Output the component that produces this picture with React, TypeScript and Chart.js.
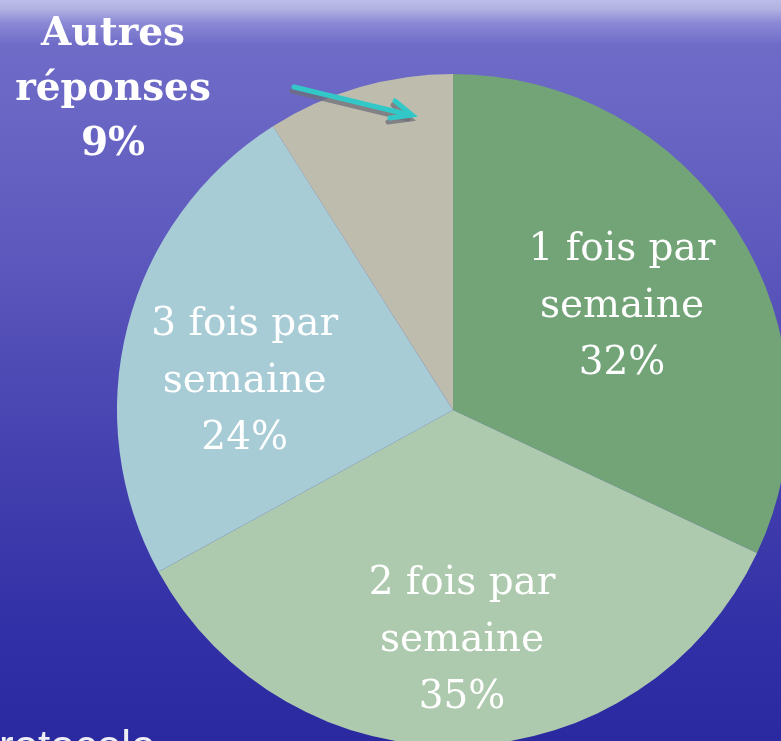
import React, { useEffect, useRef } from "react";
import { Chart, registerables } from "chart.js";

Chart.register(...registerables);

const categories = ["1 fois par semaine", "2 fois par semaine", "3 fois par semaine", "Autres réponses"];
const percentages = [32, 35, 24, 9];
const labelLines = [
  ["1 fois par", "semaine", "32%"],
  ["2 fois par", "semaine", "35%"],
  ["3 fois par", "semaine", "24%"],
];
const otherLabel = ["Autres", "réponses", "9%"];
const sliceColors = ["#72a477", "#aecaae", "#a7ccd5", "#bebcad"];
// label anchors as fractions of the pie radius, relative to its centre
const labelAnchors = [
  [0.503, -0.307],
  [0.027, 0.688],
  [-0.62, -0.083],
];

const W = 800;
const H = 760;

const backgroundPlugin = {
  id: "bg",
  beforeDraw(chart: any) {
    const ctx = chart.ctx;
    ctx.save();
    const g = ctx.createLinearGradient(0, 0, 0, 741);
    g.addColorStop(0, "#bcbce8");
    g.addColorStop(0.012, "#b2b2e2");
    g.addColorStop(0.03, "#8c8ad6");
    g.addColorStop(0.06, "#6f6cc8");
    g.addColorStop(0.3, "#605cbf");
    g.addColorStop(0.6, "#4642b0");
    g.addColorStop(0.85, "#3230a6");
    g.addColorStop(1, "#2b29a0");
    ctx.fillStyle = g;
    ctx.fillRect(0, 0, chart.width, chart.height);
    ctx.restore();
  },
};

const labelsPlugin = {
  id: "sliceLabels",
  afterDatasetsDraw(chart: any) {
    const ctx = chart.ctx;
    const meta = chart.getDatasetMeta(0);
    const arc0 = meta.data[0];
    const cx = arc0.x;
    const cy = arc0.y;
    const r = arc0.outerRadius;
    ctx.save();
    ctx.textAlign = "center";
    ctx.textBaseline = "middle";
    ctx.fillStyle = "#ffffff";
    ctx.font = "39px DejaVu Serif, serif";
    labelLines.forEach((lines, i) => {
      const [fx, fy] = labelAnchors[i];
      const x = cx + fx * r;
      const y = cy + fy * r;
      lines.forEach((t, j) => {
        ctx.fillText(t, x, y + (j - 1) * 57);
      });
    });

    // "Autres réponses" label outside the pie
    ctx.font = "bold 39px DejaVu Serif, serif";
    otherLabel.forEach((t, j) => {
      ctx.fillText(t, 113, 35 + j * 55);
    });

    // arrow pointing to the small slice
    const drawArrow = (dx: number, dy: number, color: string) => {
      ctx.strokeStyle = color;
      ctx.lineWidth = 5;
      ctx.lineCap = "round";
      ctx.lineJoin = "miter";
      ctx.beginPath();
      ctx.moveTo(294 + dx, 87 + dy);
      ctx.lineTo(410 + dx, 115 + dy);
      ctx.stroke();
      ctx.beginPath();
      ctx.moveTo(395 + dx, 101 + dy);
      ctx.lineTo(412 + dx, 115 + dy);
      ctx.lineTo(390 + dx, 118 + dy);
      ctx.stroke();
    };
    drawArrow(-2, 4, "rgba(110,110,120,0.75)");
    drawArrow(0, 0, "#33c8c8");

    // partially visible text at bottom-left
    ctx.textAlign = "left";
    ctx.textBaseline = "alphabetic";
    ctx.fillStyle = "#eeeef6";
    ctx.font = "44px Liberation Sans, sans-serif";
    ctx.fillText("rotocole", -1, 761);
    ctx.restore();
  },
};

export default function App() {
  const canvasRef = useRef<HTMLCanvasElement | null>(null);

  useEffect(() => {
    document.body.style.margin = "0";
    const canvas = canvasRef.current;
    if (!canvas) return;
    const chart = new Chart(canvas, {
      type: "pie",
      data: {
        labels: categories,
        datasets: [
          {
            data: percentages,
            backgroundColor: sliceColors,
            borderWidth: 0,
          },
        ],
      },
      options: {
        animation: false,
        responsive: false,
        devicePixelRatio: 1,
        rotation: 0,
        layout: { padding: { left: 117, top: 74, right: 11, bottom: 14 } },
        plugins: {
          legend: { display: false },
          tooltip: { enabled: false },
        },
      },
      plugins: [backgroundPlugin, labelsPlugin],
    });
    return () => chart.destroy();
  }, []);

  return (
    <div
      style={{
        position: "fixed",
        left: 0,
        top: 0,
        width: 781,
        height: 741,
        overflow: "hidden",
      }}
    >
      <canvas
        ref={canvasRef}
        width={W}
        height={H}
        style={{ width: W, height: H, display: "block" }}
      />
    </div>
  );
}
